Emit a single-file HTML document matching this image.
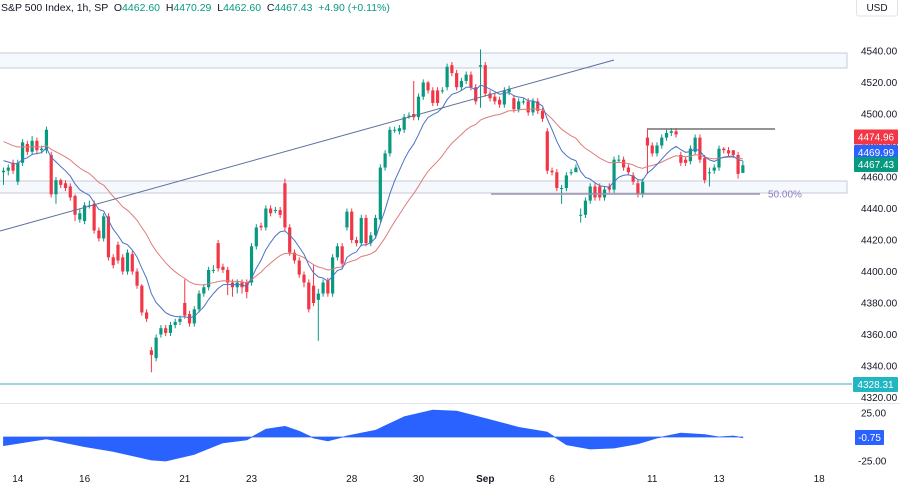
<!DOCTYPE html>
<html><head><meta charset="utf-8">
<style>
html,body{margin:0;padding:0;background:#fff;}
#wrap{position:relative;width:900px;height:485px;overflow:hidden;font-family:"Liberation Sans",sans-serif;}
svg{position:absolute;left:0;top:0;}
</style></head>
<body>
<div id="wrap">
<svg id="chart" width="900" height="485"></svg>
</div>
<script>
const opens=[4463,4464,4469,4457,4469,4481,4476,4483,4477,4477,4474,4449,4458,4456,4454,4448,4433,4432,4442,4443,4426,4421,4435,4409,4417,4409,4400,4411,4400,4391,4374,4350,4345,4360,4364,4361,4366,4368,4380,4373,4367,4376,4386,4390,4401,4418,4403,4401,4393,4390,4393,4393,4393,4416,4429,4428,4440,4439,4439,4456,4428,4412,4407,4398,4393,4391,4382,4386,4394,4386,4409,4416,4428,4438,4420,4418,4434,4418,4423,4433,4466,4475,4490,4489,4490,4499,4500,4498,4511,4520,4515,4515,4515,4517,4531,4526,4517,4521,4525,4517,4530,4531,4513,4511,4509,4506,4514,4510,4503,4508,4508,4501,4508,4502,4489,4464,4463,4453,4453,4463,4463,4436,4436,4445,4454,4454,4447,4454,4452,4471,4471,4466,4461,4456,4449,4485,4480,4475,4480,4485,4488,4489,4474,4471,4470,4476,4485,4472,4463,4464,4466,4478,4477,4477,4474,4462.6];
const closes=[4464,4466,4464,4469,4482,4476,4483,4477,4478,4490,4449,4458,4455,4453,4447,4436,4437,4442,4442,4426,4421,4435,4409,4404,4407,4400,4412,4400,4391,4374,4370,4347,4358,4364,4361,4366,4368,4370,4372,4367,4376,4386,4390,4401,4401,4402,4401,4393,4390,4393,4390,4387,4416,4428,4428,4440,4437,4439,4436,4428,4412,4407,4398,4393,4376,4380,4386,4393,4386,4409,4416,4405,4438,4420,4418,4434,4418,4423,4434,4466,4475,4490,4490,4491,4498,4499,4498,4511,4520,4515,4507,4507,4515,4530,4526,4517,4521,4525,4517,4508,4531,4513,4510,4508,4506,4515,4516,4503,4508,4508,4501,4508,4502,4497,4464,4463,4453,4453,4461,4463,4466,4436,4445,4454,4447,4447,4452,4452,4471,4471,4466,4463,4457,4449,4457,4480,4475,4480,4485,4488,4489,4487,4469,4469,4478,4485,4471,4458,4463,4466,4478,4477,4475,4474,4462,4467.43];
const highs=[4466,4468,4471,4471,4484,4483,4486,4485,4480,4492,4476,4460,4459,4458,4456,4449,4440,4444,4445,4445,4428,4437,4437,4411,4419,4411,4414,4413,4402,4392,4376,4352,4360,4366,4366,4368,4370,4372,4395,4375,4378,4388,4392,4403,4404,4420,4405,4403,4395,4395,4395,4395,4418,4430,4431,4442,4442,4441,4441,4459,4430,4414,4409,4400,4395,4404,4389,4395,4396,4411,4418,4418,4440,4440,4422,4436,4436,4425,4436,4468,4477,4492,4492,4493,4500,4501,4521,4513,4522,4521,4517,4517,4517,4532,4533,4528,4523,4527,4527,4519,4541,4533,4515,4513,4511,4517,4518,4512,4510,4510,4510,4510,4510,4504,4491,4466,4465,4455,4463,4465,4468,4440,4447,4456,4456,4456,4454,4456,4473,4474,4473,4468,4463,4458,4459,4491,4482,4482,4487,4490,4491,4491,4476,4473,4480,4487,4487,4474,4466,4468,4480,4479,4479,4477,4476,4470.29];
const lows=[4455,4461,4462,4455,4467,4474,4474,4475,4475,4475,4447,4443,4453,4451,4445,4432,4431,4430,4440,4424,4419,4419,4407,4402,4405,4398,4398,4398,4389,4372,4368,4336,4343,4358,4359,4359,4364,4366,4370,4365,4365,4374,4384,4388,4399,4400,4399,4385,4384,4386,4386,4383,4391,4414,4426,4426,4435,4437,4434,4426,4410,4405,4396,4390,4374,4378,4356,4384,4384,4384,4407,4403,4426,4418,4416,4416,4416,4416,4421,4431,4464,4473,4488,4487,4488,4497,4496,4496,4509,4513,4505,4505,4513,4515,4524,4515,4515,4519,4515,4506,4504,4511,4508,4506,4504,4504,4512,4501,4501,4506,4499,4499,4500,4495,4462,4461,4451,4443,4451,4461,4464,4431,4434,4443,4445,4445,4445,4450,4450,4469,4464,4461,4455,4447,4447,4462,4473,4473,4478,4483,4486,4485,4467,4467,4468,4474,4469,4456,4454,4462,4464,4475,4473,4472,4459,4462.6];
const dayLabels=["14","16","21","23","28","30","Sep","6","11","13","18"];
const dayIndex=[3,17,38,52,73,87,101,115,136,150,171];
const priceTicks=[4540,4520,4500,4480,4460,4440,4420,4400,4380,4360,4340,4320];
const oscIdx=[0,9,17,23,31,34,40,46,51,55,59,62,65,68,72,78,84,90,95,102,108,114,118,123,128,133,137,142,147,150,153,155];
const oscVal=[-9,-2,-10,-15,-24,-25,-18,-6,-3,8,11,6,-1,-4,1,7,21,28,27,18,10,5,-8,-12.5,-11.5,-7,-1,4,2.5,0,1,-0.75];

const NS="http://www.w3.org/2000/svg";
const svg=document.getElementById('chart');
const xS=i=>3.5+4.77*i;
const yS=p=>177+(4460-p)*1.575;
const oY=v=>437-v*0.96;
function mk(t,a,par){const e=document.createElementNS(NS,t);for(const k in a)e.setAttribute(k,a[k]);(par||svg).appendChild(e);return e;}

let z1=mk('rect',{x:-1,y:53,width:848,height:15,fill:'#f5f8fd',stroke:'#c5ccd8','stroke-width':1});


let z2=mk('rect',{x:-1,y:181,width:848,height:12,fill:'#f5f8fd',stroke:'#c5ccd8','stroke-width':1});


let tl=mk('line',{x1:0,y1:384,x2:852,y2:384,stroke:'#7ec8cc','stroke-width':1.5});


let sep=mk('line',{x1:0,y1:403.5,x2:900,y2:403.5,stroke:'#e0e3eb','stroke-width':1});



for(let i=0;i<closes.length;i++){
  const up=closes[i]>=opens[i];const col=up?'#089981':'#f23645';const x=xS(i);
  const g=mk('g',{});
  
  
  mk('line',{x1:x,y1:yS(highs[i]),x2:x,y2:yS(lows[i]),stroke:col,'stroke-width':1},g);
  const t=yS(Math.max(opens[i],closes[i])),b=yS(Math.min(opens[i],closes[i]));
  mk('rect',{x:x-1.6,y:t,width:3.2,height:Math.max(1,b-t),fill:col},g);
}
function ema(n,seed){const k=2/(n+1);let e=seed;return closes.map(c=>(e=c*k+e*(1-k)));}
function line(arr,col,name){let d='';arr.forEach((v,i)=>{d+=(i?'L':'M')+xS(i).toFixed(1)+' '+yS(v).toFixed(1);});
  const p=mk('path',{d:d,fill:'none',stroke:col,'stroke-width':1});
  
  }
line(ema(25,4484),'#e07b7b','slow-moving-average');
line(ema(9,4472),'#4a72c4','fast-moving-average');

let tr=mk('line',{x1:0,y1:231,x2:614,y2:60,stroke:'#5b6f9a','stroke-width':1});


let bl=mk('line',{x1:648,y1:129,x2:775,y2:129,stroke:'#555','stroke-width':1.2});


let fl=mk('line',{x1:491,y1:194,x2:760,y2:194,stroke:'#9a93b3','stroke-width':1.5});


let ft=mk('text',{x:768,y:197.5,'font-size':10,fill:'#8a7fc0'});ft.textContent='50.00%';



let d='M'+xS(oscIdx[0])+' '+oY(0);
oscIdx.forEach((ix,k)=>{d+='L'+xS(ix).toFixed(1)+' '+oY(oscVal[k]).toFixed(1);});
d+='L'+xS(oscIdx[oscIdx.length-1]).toFixed(1)+' '+oY(0)+'Z';
let oa=mk('path',{d:d,fill:'#2962ff',stroke:'#2962ff','stroke-width':0.8,'stroke-linejoin':'round'});



priceTicks.forEach(p=>{const t=mk('text',{x:861,y:yS(p)+3.5,'font-size':10,fill:'#131722'});t.textContent=p.toFixed(2);
  
  });
[[25,'25.00'],[-25,'-25.00']].forEach(a=>{const t=mk('text',{x:a[0]<0?858:861,y:oY(a[0])+3.5,'font-size':10,fill:'#131722'});t.textContent=a[1];
  
  });
dayLabels.forEach((l,k)=>{const t=mk('text',{x:xS(dayIndex[k]),y:482,'font-size':10,fill:'#131722','text-anchor':'middle','font-weight':l==='Sep'?'bold':'normal'});t.textContent=l;
  
  });

function tag(y,txt,bg,x,w,name){const g=mk('g',{});
  
  
  mk('rect',{x:x,y:y-7.5,width:w,height:15,fill:bg,rx:1},g);
  const t=mk('text',{x:x+w/2,y:y+3.5,'font-size':10,fill:'#fff','text-anchor':'middle'},g);t.textContent=txt;}
tag(137,'4474.96','#f23645',854,44,'slow-ma-price-tag');
tag(152.5,'4469.99','#2962ff',854,44,'fast-ma-price-tag');
tag(164.5,'4467.43','#089981',854,44,'last-price-tag');
tag(384.5,'4328.31','#22b5c2',853,45,'level-price-tag');
tag(437.5,'-0.75','#2962ff',855,29,'oscillator-value-tag');

let ub=mk('rect',{x:856.5,y:-1,width:41,height:17,fill:'#fff',stroke:'#e0e3eb',rx:2});


let ut=mk('text',{x:877,y:11,'font-size':10,fill:'#131722','text-anchor':'middle'});ut.textContent='USD';



const h=mk('text',{x:1,y:11,'font-size':10.5,fill:'#131722'});


const parts=[['S&P 500 Index, 1h, SP  ','#131722'],['O','#131722'],['4462.60  ','#089981'],['H','#131722'],['4470.29  ','#089981'],['L','#131722'],['4462.60  ','#089981'],['C','#131722'],['4467.43  ','#089981'],['+4.90 (+0.11%)','#089981']];
parts.forEach(p=>{const s=mk('tspan',{fill:p[1]},h);s.textContent=p[0];s.setAttribute('xml:space','preserve');});
h.setAttribute('style','white-space:pre');
</script>
</body></html>
